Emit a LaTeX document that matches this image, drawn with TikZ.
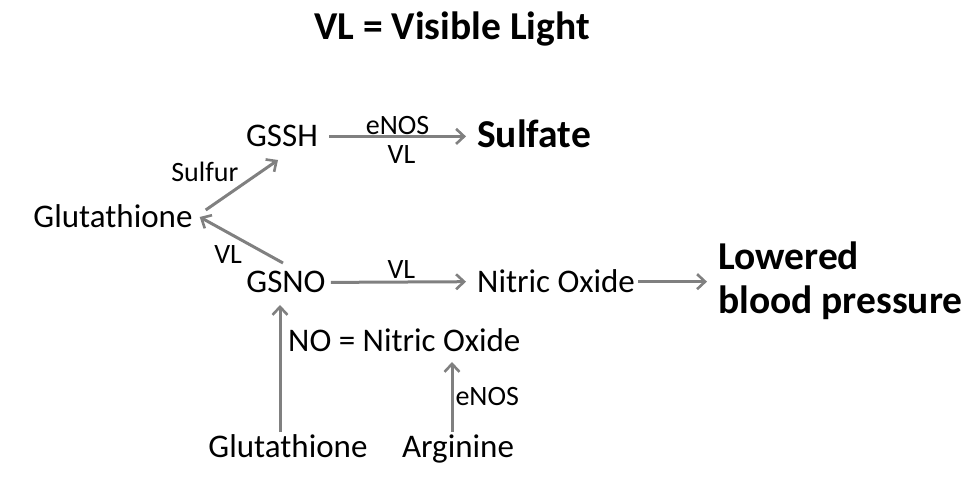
\documentclass[tikz,border=0pt]{standalone}
\usepackage{fontspec}
\setmainfont{Carlito}
\usetikzlibrary{arrows.meta,calc}

\definecolor{arrowgray}{RGB}{128,128,128}

\begin{document}
\begin{tikzpicture}[x=1pt,y=-1pt,
			every node/.style = {inner sep=3pt, font=\fontsize{33}{38}\selectfont},
			note/.style = {inner sep=2pt, font=\fontsize{28}{32}\selectfont},
			big/.style = {font=\fontsize{39.5}{44}\selectfont\bfseries},
			conv/.style = {draw=arrowgray, line width=3pt,
					-{Straight Barb[length=8pt,width=15pt,line width=2.6pt]}}]
		\useasboundingbox (0,0) rectangle (975,478);
		\node[big, anchor=base] (title) at (452,40) {VL = Visible Light};
		\node[anchor=base] (glu) at (113,228) {Glutathione};
		\node[anchor=base] (gssh) at (282,147) {GSSH};
		\node[big, anchor=base west] (sulfate) at (474,148) {Sulfate};
		\node[anchor=base] (gsno) at (286,293) {GSNO};
		\node[anchor=base west] (no) at (474,293) {Nitric Oxide};
		\node[big, anchor=west, align=left] (bp) at (715,281) {Lowered\\blood pressure};
		\node[anchor=base west] (noeq) at (285,352) {NO = Nitric Oxide};
		\node[anchor=base] (glu2) at (288,457) {Glutathione};
		\node[anchor=base] (arg) at (458,457) {Arginine};

		\draw[conv, shorten <=8pt, shorten >=8pt] (gssh.east) -- node[note, above, yshift=-2pt] {eNOS} node[note, below, xshift=4pt, yshift=-6pt] {VL} (sulfate.west |- gssh.east);
		\draw[conv] ($(glu.base east)+(10,-18)$) -- node[note, above left] {Sulfur} ($(gssh.base)+(-4,13)$);
		\draw[conv] ($(gsno.base)+(-3,-30)$) -- node[note, below left, pos=0.45] {VL} ($(glu.base east)+(4,-11)$);
		\draw[conv, shorten <=2pt, shorten >=8pt] (gsno.east) -- node[note, above] {VL} (no.west);
		\draw[conv, shorten >=8pt] (no.east) -- (bp.west |- no.east);
		\draw[conv] ($(glu2.base)+(-8,-25)$) -- ($(gsno.base)+(-6,12)$);
		\draw[conv] ($(arg.base)+(-6,-25)$) -- node[note, right] {eNOS} ($(arg.base |- noeq.base)+(-6,10)$);
	\end{tikzpicture}
\end{document}
